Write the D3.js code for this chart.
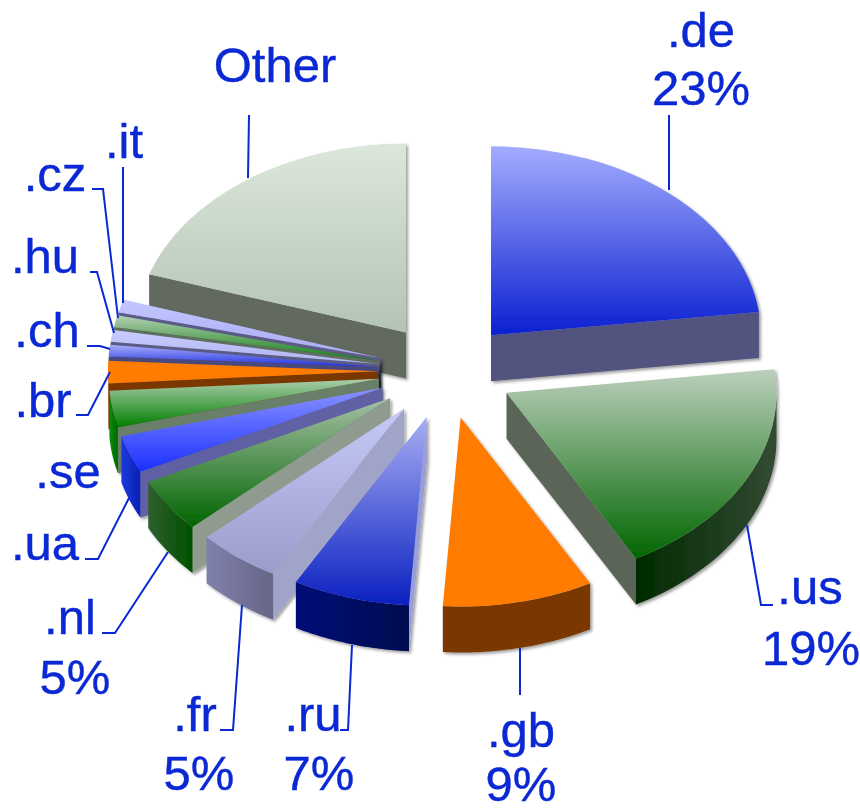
<!DOCTYPE html>
<html>
<head>
<meta charset="utf-8">
<script src="https://cdn.jsdelivr.net/npm/d3@7"></script>
<style>
html,body{margin:0;padding:0;background:#fff}
svg{display:block}
text{font-family:"Liberation Sans",Arial,sans-serif;fill:#0a28d4;stroke:#0a28d4;stroke-width:0.4px;font-size:49px}
</style>
</head>
<body>
<div id="chart"></div>
<script>
// ---- data ----
const categories = [".de",".us",".gb",".ru",".fr",".nl",".ua",".se",".br",".ch",".hu",".cz",".it","Other"];
const shares     = [23,19,9,7,5,4.6,3.2,3.1,1.9,1,1,1,1.1,20];
const percentLabels = ["23%","19%","9%","7%","5%","5%","","","","","","","",""];

// ---- styles ----
const topFrom  = ["#a4acff","#bccfbc","#ff7b00","#a8aef4","#c6caf6","#a6c0a6","#8a92ff","#aecdae","#ff7b00","#a8aef8","#c8ccff","#b4ceb4","#c2c6ff","#dbe7da"];
const topTo    = ["#0a20d0","#006600","#ff7b00","#0a20c0","#9a9ccc","#006400","#1a30ff","#008000","#ff7b00","#2030e0","#b0b4f2","#108010","#a8aaf0","#b4c4b4"];
const wallFill = ["#53537f","#5a6558","#7a3800","#9a9ed8","#a0a4c8","#8f9b8f","#6060a4","#6a7f6a","#7a3800","#4a4a80","#5c5c88","#5f6f5f","#5c5c88","#626b5f"];
const rimFrom  = ["#000a70","#002a00","#7a3800","#000c78","#8080ac","#2f5f2f","#1a3ae0","#0a8a0a","#c06010","#2030e0","#8080ac","#2f5f2f","#8080ac","#626b5f"];
const rimTo    = ["#000a70","#334a33","#7a3800","#000850","#666688","#005000","#0a20b0","#006a00","#a05010","#2030e0","#666688","#005000","#666688","#626b5f"];

// ---- geometry ----
const W = 860, H = 812;
const cx = 446, cy = 371, R = 270, squash = 0.7, depth = 46, explode = 68;

// ---- annotation layout ----
const labelLines = [
 {c:categories[0],  x:701, y:47},{c:percentLabels[0], x:701, y:105},
 {c:categories[13], x:275, y:82},
 {c:categories[12], x:124, y:158},
 {c:categories[11], x:55,  y:191},
 {c:categories[10], x:45,  y:273},
 {c:categories[9],  x:47,  y:347},
 {c:categories[8],  x:43,  y:417},
 {c:categories[7],  x:68,  y:488},
 {c:categories[6],  x:45,  y:560},
 {c:categories[5],  x:70,  y:634},{c:percentLabels[5], x:75, y:694},
 {c:categories[4],  x:195, y:731},{c:percentLabels[4], x:199, y:790},
 {c:categories[3],  x:313, y:731},{c:percentLabels[3], x:319, y:790},
 {c:categories[2],  x:521, y:747},{c:percentLabels[2], x:521, y:801},
 {c:categories[1],  x:810, y:604},{c:percentLabels[1], x:811, y:665}
];
const leaders = [
 [[669,115],[669,190]],
 [[249,115],[248,178]],
 [[123,167],[123,303]],
 [[92,189],[103,189],[118,318]],
 [[90,272],[97,272],[114,333]],
 [[87,346],[100,346],[110,349]],
 [[76,415],[88,415],[110,372]],
 [[85,559],[98,559],[129,498]],
 [[102,633],[115,633],[168,552]],
 [[220,730],[233,730],[242,605]],
 [[340,730],[348,730],[352,645]],
 [[520,648],[520,695]],
 [[747,525],[761,605],[773,605]]
];

const svg = d3.select("#chart").append("svg").attr("width",W).attr("height",H);
const defs = svg.append("defs");
const f = defs.append("filter").attr("id","sh").attr("x","-10%").attr("y","-10%").attr("width","125%").attr("height","125%");
f.append("feDropShadow").attr("dx",2).attr("dy",2).attr("stdDeviation",1.6).attr("flood-color","#000").attr("flood-opacity",0.38);

const pie = d3.pie().sort(null).value(d=>d)(shares);
const arc = d3.arc().innerRadius(0).outerRadius(R);
const line = d3.line();

const slices = pie.map((p,i)=>{
  const mid = (p.startAngle+p.endAngle)/2;
  return {i, a0:p.startAngle, a1:p.endAngle, p,
    ox: cx + explode*Math.sin(mid),
    oy: cy - explode*Math.cos(mid)*squash};
}).sort((a,b)=>a.oy-b.oy);

function pt(s,a,dz){ return [s.ox+R*Math.sin(a), s.oy-R*Math.cos(a)*squash+(dz||0)]; }

slices.forEach(s=>{
  const i = s.i;
  const g1 = defs.append("linearGradient").attr("id","top"+i).attr("x1",0).attr("y1",0).attr("x2",0).attr("y2",1);
  g1.append("stop").attr("offset",0).attr("stop-color",topFrom[i]);
  g1.append("stop").attr("offset",1).attr("stop-color",topTo[i]);
  const g2 = defs.append("linearGradient").attr("id","rim"+i).attr("x1",0).attr("y1",0).attr("x2",1).attr("y2",0);
  g2.append("stop").attr("offset",0).attr("stop-color",rimFrom[i]);
  g2.append("stop").attr("offset",1).attr("stop-color",rimTo[i]);

  const g = svg.append("g").attr("class","slice").attr("filter","url(#sh)");
  const apex=[s.ox,s.oy], apexD=[s.ox,s.oy+depth];
  const wall = a => line([apex,pt(s,a),pt(s,a,depth),apexD])+"Z";
  if (Math.sin(s.a0)<0) g.append("path").attr("d",wall(s.a0)).attr("fill",wallFill[i]);
  if (Math.sin(s.a1)>0) g.append("path").attr("d",wall(s.a1)).attr("fill",wallFill[i]);
  const lo=Math.max(s.a0,Math.PI/2), hi=Math.min(s.a1,Math.PI*1.5);
  if (hi>lo){
    const ts=d3.range(0,41).map(t=>lo+(hi-lo)*t/40);
    const pts=ts.map(a=>pt(s,a)).concat(ts.slice().reverse().map(a=>pt(s,a,depth)));
    g.append("path").attr("d",line(pts)+"Z").attr("fill",`url(#rim${i})`);
  }
  g.append("path")
    .attr("d",arc(s.p))
    .attr("transform",`translate(${s.ox},${s.oy}) scale(1,${squash})`)
    .attr("fill",`url(#top${i})`);
});

svg.append("g").selectAll("path").data(leaders).join("path")
  .attr("d",d=>line(d)).attr("fill","none").attr("stroke","#0a28d4").attr("stroke-width",2);

svg.append("g").selectAll("text").data(labelLines).join("text")
  .attr("x",d=>d.x).attr("y",d=>d.y).attr("text-anchor","middle").text(d=>d.c);
</script>
</body>
</html>
